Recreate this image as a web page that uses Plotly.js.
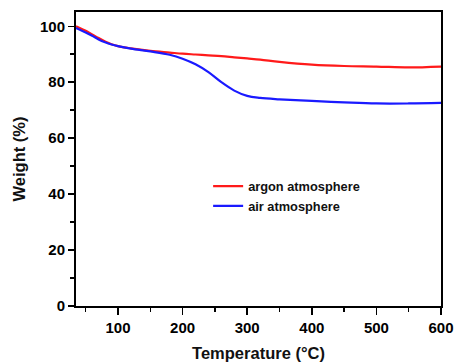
<!DOCTYPE html>
<html>
<head>
<meta charset="utf-8">
<script src="https://cdn.plot.ly/plotly-3.0.1.min.js"></script>
<style>html,body{margin:0;padding:0;background:#fff;}#chart{width:456px;height:364px;}</style>
</head>
<body>
<div id="chart"></div>
<script>
const temperature = [35, 50, 60, 70, 80, 90, 100, 120, 150, 180, 200, 220, 240, 260, 280, 300, 320, 350, 400, 450, 500, 550, 600];
const argonWeight = [100, 98.4, 97.1, 95.8, 94.6, 93.6, 92.9, 92.1, 91.2, 90.6, 90.2, 89.9, 89.6, 89.3, 88.9, 88.5, 88.1, 87.3, 86.3, 85.8, 85.6, 85.3, 85.6];
const airWeight   = [99.4, 97.8, 96.6, 95.3, 94.3, 93.5, 92.9, 92.0, 91.0, 89.8, 88.4, 86.4, 83.6, 80.0, 77.0, 75.1, 74.4, 73.9, 73.3, 72.8, 72.4, 72.4, 72.6];
const seriesNames = ["argon atmosphere", "air atmosphere"];
const xTicks = [100, 200, 300, 400, 500, 600];
const yTicks = [0, 20, 40, 60, 80, 100];

const font = "Arial, 'Liberation Sans', sans-serif";
const traces = [
  {x: temperature, y: argonWeight, name: seriesNames[0], mode: "lines",
   line: {color: "#ff1a1a", width: 2.2, shape: "spline", smoothing: 1}},
  {x: temperature, y: airWeight, name: seriesNames[1], mode: "lines",
   line: {color: "#1a1aff", width: 2.2, shape: "spline", smoothing: 1}}
];
const layout = {
  width: 456, height: 364,
  margin: {l: 76, r: 15, t: 12, b: 58},
  paper_bgcolor: "#fff", plot_bgcolor: "#fff",
  font: {family: font, color: "#111", size: 13},
  showlegend: true,
  legend: {x: 0.362, y: 0.458, xanchor: "left", yanchor: "top", bgcolor: "rgba(0,0,0,0)",
    font: {family: font, size: 12.8, color: "#111", weight: "bold"}, tracegroupgap: 0},
  xaxis: {
    range: [35, 600], tickvals: xTicks, ticktext: xTicks.map(String),
    ticks: "outside", ticklen: 7, tickwidth: 1.5, tickcolor: "#000",
    minor: {dtick: 50, tick0: 0, ticks: "outside", ticklen: 4, tickwidth: 1.5, tickcolor: "#000", showgrid: false},
    showline: true, linecolor: "#000", linewidth: 2, mirror: true, showgrid: false, zeroline: false,
    tickfont: {family: font, size: 15, color: "#000", weight: "bold"},
    title: {text: "Temperature (°C)", font: {family: font, size: 16.5, color: "#111", weight: "bold"}, standoff: 12}
  },
  yaxis: {
    range: [0, 105.1], tickvals: yTicks, ticktext: yTicks.map(String),
    ticks: "outside", ticklen: 6, tickwidth: 1.5, tickcolor: "#000",
    minor: {dtick: 10, tick0: 0, ticks: "outside", ticklen: 4, tickwidth: 1.5, tickcolor: "#000", showgrid: false},
    showline: true, linecolor: "#000", linewidth: 2, mirror: true, showgrid: false, zeroline: false,
    tickfont: {family: font, size: 15, color: "#000", weight: "bold"},
    title: {text: "Weight (%)", font: {family: font, size: 16.5, color: "#111", weight: "bold"}, standoff: 10}
  }
};
Plotly.newPlot("chart", traces, layout, {staticPlot: true, displayModeBar: false});
</script>
</body>
</html>
